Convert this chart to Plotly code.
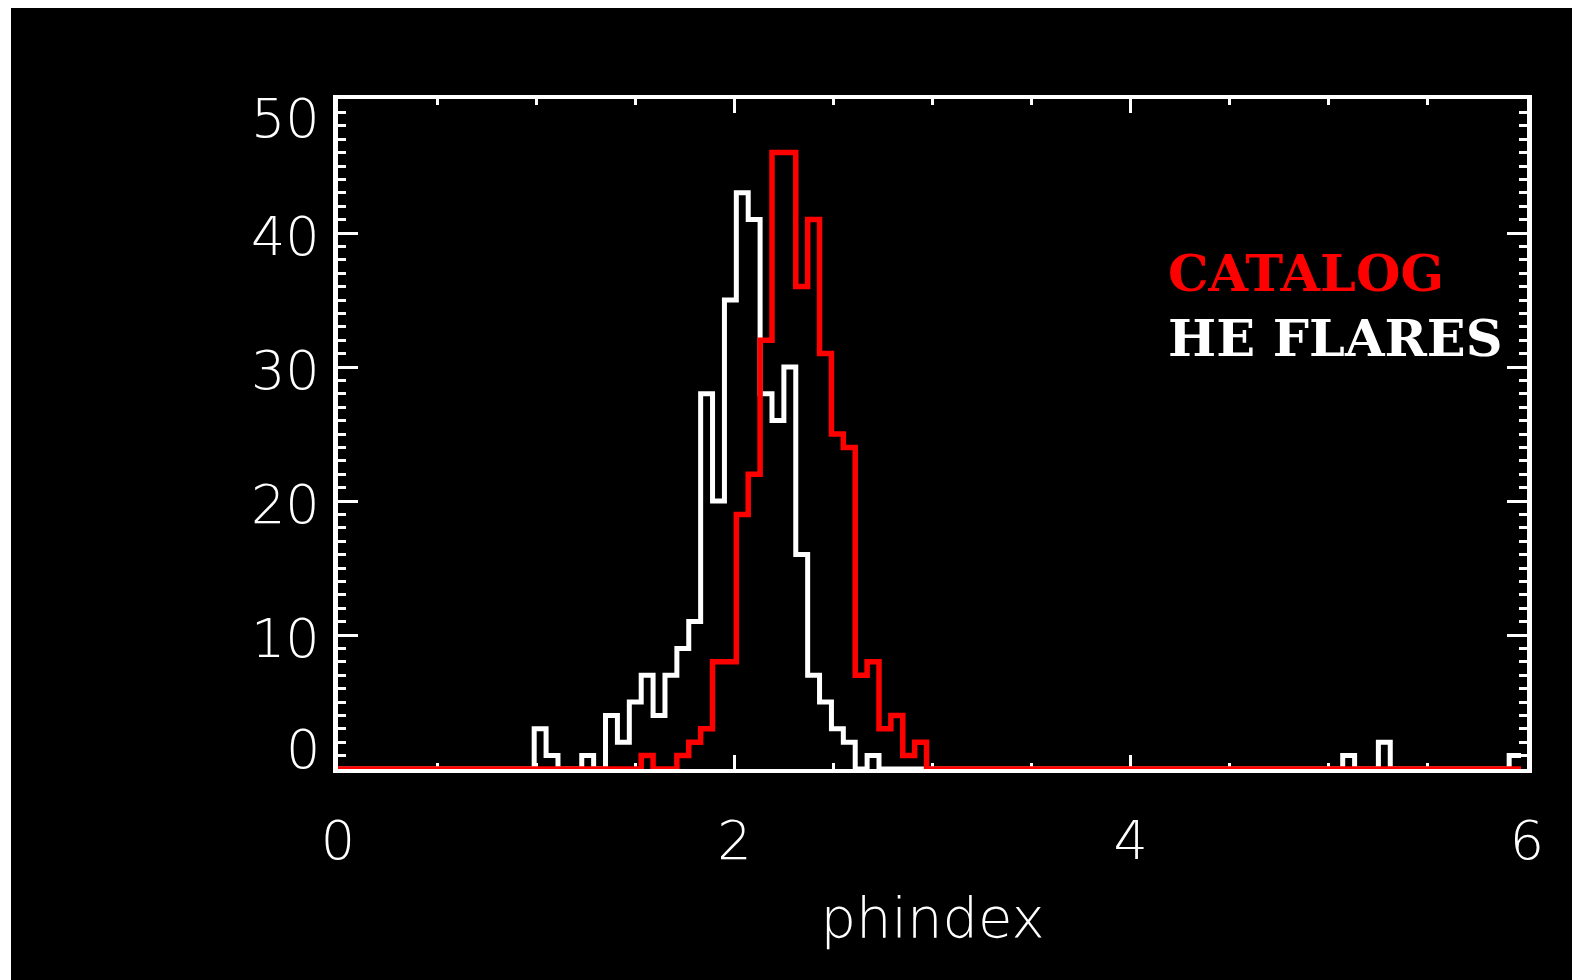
import numpy as np
import plotly.graph_objects as go

binsize = 0.06

# counts per 0.06-wide bin of phindex, bins centred on 0, 0.06, ... 5.94
catalog_counts = [
    0, 0, 0, 0, 0, 0, 0, 0, 0, 0, 0, 0, 0, 0, 0, 0, 0, 0, 0, 0,
    0, 0, 0, 0, 0, 0, 1, 0, 0, 1, 2, 3, 8, 8, 19, 22, 32, 46, 46, 36,
    41, 31, 25, 24, 7, 8, 3, 4, 1, 2, 0, 0, 0, 0, 0, 0, 0, 0, 0, 0,
    0, 0, 0, 0, 0, 0, 0, 0, 0, 0, 0, 0, 0, 0, 0, 0, 0, 0, 0, 0,
    0, 0, 0, 0, 0, 0, 0, 0, 0, 0, 0, 0, 0, 0, 0, 0, 0, 0, 0, 0,
]
he_flare_counts = [
    0, 0, 0, 0, 0, 0, 0, 0, 0, 0, 0, 0, 0, 0, 0, 0, 0, 3, 1, 0,
    0, 1, 0, 4, 2, 5, 7, 4, 7, 9, 11, 28, 20, 35, 43, 41, 28, 26, 30, 16,
    7, 5, 3, 2, 0, 1, 0, 0, 0, 0, 0, 0, 0, 0, 0, 0, 0, 0, 0, 0,
    0, 0, 0, 0, 0, 0, 0, 0, 0, 0, 0, 0, 0, 0, 0, 0, 0, 0, 0, 0,
    0, 0, 0, 0, 0, 1, 0, 0, 2, 0, 0, 0, 0, 0, 0, 0, 0, 0, 0, 1,
]
ytick_vals = [0, 10, 20, 30, 40, 50]
xtick_vals = [0, 2, 4, 6]

centers = np.arange(len(catalog_counts)) * binsize
# psym=10 style: last step runs half a bin past its centre
xs = np.append(centers, centers[-1] + binsize / 2)

fig = go.Figure()
fig.add_trace(go.Scatter(
    x=xs, y=he_flare_counts + he_flare_counts[-1:], mode='lines',
    line=dict(color='white', width=5, shape='hvh'), cliponaxis=False))
fig.add_trace(go.Scatter(
    x=xs, y=catalog_counts + catalog_counts[-1:], mode='lines',
    line=dict(color='#ff0000', width=5.5, shape='hvh'), cliponaxis=False))

tickfont = dict(family='DejaVu Sans', size=54, color='white', weight=200)

fig.update_layout(
    width=1572, height=972,
    margin=dict(l=330, r=53, t=91, b=211),
    paper_bgcolor='black', plot_bgcolor='black',
    showlegend=False,
    xaxis=dict(
        range=[0, 6], showgrid=False, zeroline=False,
        showline=True, linecolor='white', linewidth=4, mirror='ticks',
        ticks='inside', tickvals=xtick_vals, ticklen=14, tickwidth=3, tickcolor='white',
        minor=dict(dtick=0.5, ticks='inside', ticklen=6, tickwidth=3, tickcolor='white'),
        tickfont=tickfont, ticklabelstandoff=21, layer='below traces',
        title=dict(text='phindex', font=dict(family='DejaVu Sans', size=56, color='white', weight=200),
                   standoff=28),
    ),
    yaxis=dict(
        range=[0, 50], showgrid=False, zeroline=False,
        showline=True, linecolor='white', linewidth=5, mirror='ticks',
        ticks='inside', tickvals=ytick_vals, ticklen=20, tickwidth=3, tickcolor='white',
        minor=dict(dtick=1, ticks='inside', ticklen=8, tickwidth=3, tickcolor='white'),
        showticklabels=False, layer='below traces',
    ),
)

# y tick labels: end ones pushed inside the axis range like IDL does
for v in ytick_vals:
    if v == ytick_vals[-1]:
        anchor, shift = 'top', 14
    elif v == ytick_vals[0]:
        anchor, shift = 'bottom', -14
    else:
        anchor, shift = 'middle', -3
    fig.add_annotation(x=0, xref='paper', y=v, yref='y', text=str(v), showarrow=False,
                       xanchor='right', yanchor=anchor, xshift=-16, yshift=shift, font=tickfont)

legend_font = dict(family='DejaVu Serif', size=51)
fig.add_annotation(x=0.696, y=0.741, xref='paper', yref='paper', text='<b>CATALOG</b>',
                   showarrow=False, xanchor='left', yanchor='middle',
                   font=dict(color='#ff0000', **legend_font))
fig.add_annotation(x=0.696, y=0.644, xref='paper', yref='paper', text='<b>HE FLARES</b>',
                   showarrow=False, xanchor='left', yanchor='middle',
                   font=dict(color='white', **legend_font))

# strip of white page margin on the left edge
fig.add_shape(type='rect', xref='paper', yref='paper', x0=-330 / 1189, x1=-327 / 1189,
              y0=-211 / 670, y1=761 / 670, fillcolor='white', line_width=0, layer='below')

fig.write_html("out.html")
